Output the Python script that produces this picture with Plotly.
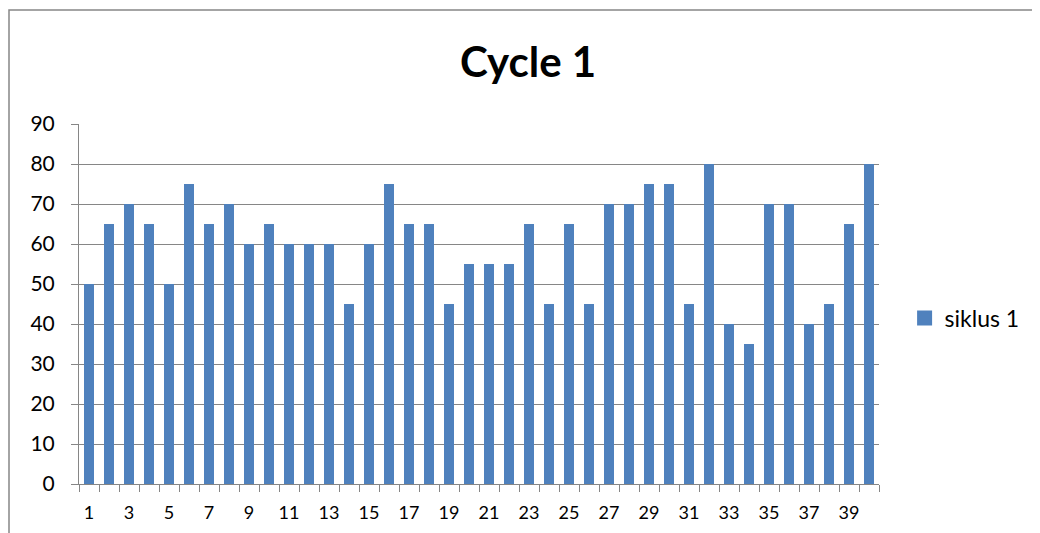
import plotly.graph_objects as go

categories = list(range(1, 41))
values = [50, 65, 70, 65, 50, 75, 65, 70, 60, 65,
          60, 60, 60, 45, 60, 75, 65, 65, 45, 55,
          55, 55, 65, 45, 65, 45, 70, 70, 75, 75,
          45, 80, 40, 35, 70, 70, 40, 45, 65, 80]
label_vals = list(range(1, 41, 2))
y_ticks = list(range(0, 91, 10))
series_name = "siklus 1"

FONT = "Lato, 'Open Sans', sans-serif"
COLOR = "#4F81BD"
fig = go.Figure()
fig.add_trace(go.Bar(x=categories, y=values, name=series_name,
                     marker=dict(color=COLOR, line=dict(width=0)),
                     showlegend=False))
# legend entry with a bigger square symbol
fig.add_trace(go.Scatter(x=[None], y=[None], name=series_name, mode="markers",
                         marker=dict(symbol="square", size=15, color=COLOR),
                         showlegend=True))
# invisible trace to activate label axis
fig.add_trace(go.Scatter(x=[categories[0]], y=[values[0]], xaxis="x2", mode="markers",
                         marker=dict(opacity=0), showlegend=False, hoverinfo="skip"))

L, T = 71, 116
fig.update_layout(
    width=1032, height=525,
    margin=dict(l=L, r=161, t=T, b=49, autoexpand=False),
    paper_bgcolor="white", plot_bgcolor="white",
    bargap=0.5,
    title=dict(text="<b>Cycle 1</b>", x=(528 - 8)/1032, xanchor="center", xref="container",
               y=1 - (62 - 8)/525, yref="container", yanchor="middle",
               font=dict(family=FONT, size=42, color="black")),
    xaxis=dict(range=[0.5, 40.5], tickmode="array", automargin=False,
               tickvals=[i + 0.5 for i in range(0, 41)],
               ticktext=[""] * 41, ticks="outside", ticklen=7, tickcolor="#868686",
               showgrid=False, zeroline=False, showline=True, linecolor="#868686"),
    xaxis2=dict(range=[0.5, 40.5], overlaying="x", side="bottom", tickmode="array",
                automargin=False,
                tickvals=label_vals, ticktext=[str(v) for v in label_vals],
                ticks="", showgrid=False, zeroline=False, showline=False,
                tickfont=dict(family=FONT, size=18, color="black"), ticklabelstandoff=16),
    yaxis=dict(range=[0, 90], tickvals=y_ticks, ticks="outside", ticklen=7,
               automargin=False,
               tickcolor="#868686", showgrid=True, gridcolor="#868686", gridwidth=1,
               showline=True, linecolor="#868686", zeroline=False,
               ticklabelstandoff=12,
               tickfont=dict(family=FONT, size=21, color="black")),
    legend=dict(x=1.032, y=0.461, xanchor="left", yanchor="middle",
                font=dict(family=FONT, size=23, color="black"),
                itemwidth=30, tracegroupgap=0),
    shapes=[dict(type="rect", xref="paper", yref="paper",
                 x0=(1 - L)/800, x1=2.0, y0=-0.5, y1=1 + (T - 2)/360,
                 line=dict(color="#868686", width=1.5), layer="below")],
)
fig.write_html("out.html")
